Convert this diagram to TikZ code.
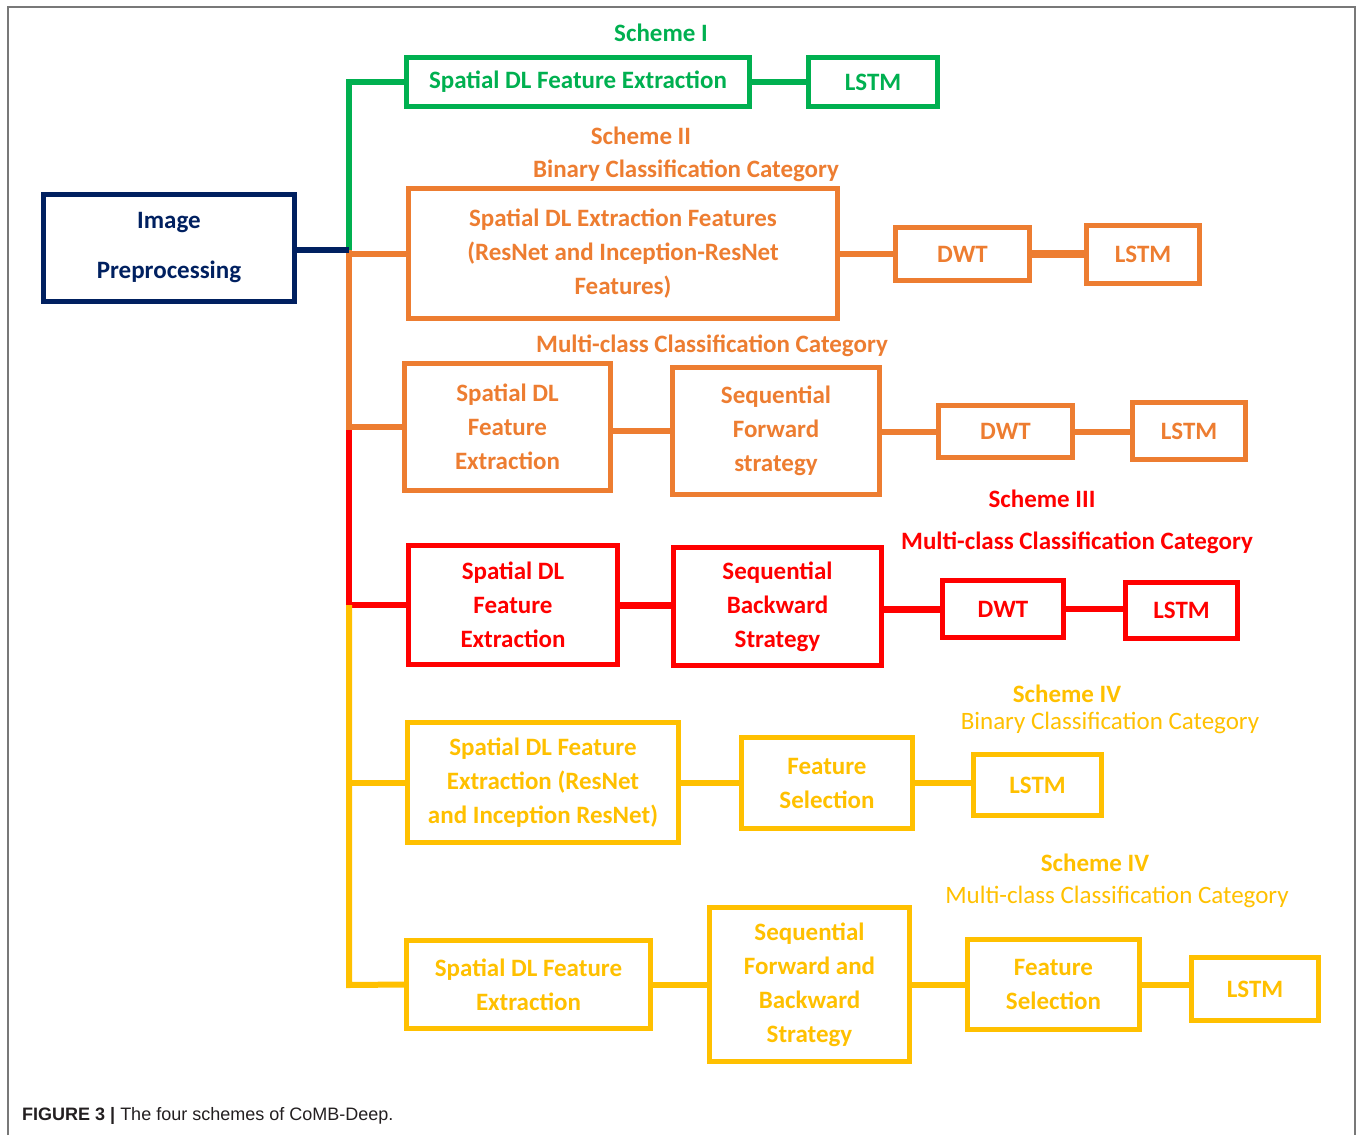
\documentclass[tikz,border=0pt]{standalone}
\usepackage{fontspec}
\setmainfont{Carlito}
\newfontfamily\capfont{Liberation Sans}
\definecolor{navyc}{RGB}{0,32,96}
\definecolor{greenc}{RGB}{0,176,80}
\definecolor{orangec}{RGB}{237,125,49}
\definecolor{redc}{RGB}{255,0,0}
\definecolor{yellowc}{RGB}{255,192,0}
\definecolor{framec}{RGB}{120,120,120}
\definecolor{captc}{RGB}{35,31,32}
\tikzset{
  bx/.style={draw=#1, text=#1, line width=5pt, align=center, inner sep=0pt,
    font=\bfseries\fontsize{25}{34}\selectfont},
  ln/.style={draw=#1, line width=6pt},
  lbl/.style={text=#1, anchor=base, inner sep=0pt, font=\bfseries\fontsize{25}{30}\selectfont},
  lblr/.style={text=#1, anchor=base, inner sep=0pt, font=\fontsize{25}{30}\selectfont},
}
\begin{document}
\begin{tikzpicture}[x=1pt,y=-1pt]
\useasboundingbox (0,0) rectangle (1357,1135);
% frame
\draw[framec, line width=2pt] (7.5,1135) -- (7.5,6.5) -- (1355,6.5) -- (1355,1135);

% nodes
\node[bx=navyc, minimum width=251pt, minimum height=107pt, font=\bfseries\fontsize{25}{50}\selectfont] (ip) at (169,248) {Image\\Preprocessing};

\node[bx=greenc, minimum width=343pt, minimum height=49pt] (g1) at (578,82) {Spatial DL Feature Extraction};
\node[bx=greenc, minimum width=129pt, minimum height=49pt] (g2) at (873,82) {LSTM};

\node[bx=orangec, minimum width=429pt, minimum height=130pt] (o1) at (623,253.5) {\raisebox{4pt}{\parbox{400pt}{\centering Spatial DL Extraction Features\\(ResNet and Inception-ResNet\\Features)}}};
\node[bx=orangec, minimum width=134pt, minimum height=53pt] (o2) at (962.5,254) {DWT};
\node[bx=orangec, minimum width=113pt, minimum height=58pt] (o3) at (1143,254.5) {LSTM};

\node[bx=orangec, minimum width=206pt, minimum height=127pt] (o4) at (507.5,427) {Spatial DL\\Feature\\Extraction};
\node[bx=orangec, minimum width=207pt, minimum height=127pt] (o5) at (776,431) {Sequential\\Forward\\strategy};
\node[bx=orangec, minimum width=134pt, minimum height=52pt] (o6) at (1005.5,431.5) {DWT};
\node[bx=orangec, minimum width=113pt, minimum height=57pt] (o7) at (1189,431) {LSTM};

\node[bx=redc, minimum width=209pt, minimum height=119pt] (r1) at (513,605) {Spatial DL\\Feature\\Extraction};
\node[bx=redc, minimum width=208pt, minimum height=118pt] (r2) at (777.5,606.5) {Sequential\\Backward\\Strategy};
\node[bx=redc, minimum width=121pt, minimum height=57pt] (r3) at (1003,609) {DWT};
\node[bx=redc, minimum width=112pt, minimum height=56pt] (r4) at (1181.5,610.5) {LSTM};

\node[bx=yellowc, minimum width=271pt, minimum height=120pt] (y1) at (543,782.5) {Spatial DL Feature\\Extraction (ResNet\\and Inception ResNet)};
\node[bx=yellowc, minimum width=171pt, minimum height=91pt] (y2) at (827,783) {Feature\\Selection};
\node[bx=yellowc, minimum width=128pt, minimum height=61pt] (y3) at (1037.5,785) {LSTM};

\node[bx=yellowc, minimum width=244pt, minimum height=88pt] (y4) at (528.5,984.5) {Spatial DL Feature\\Extraction};
\node[bx=yellowc, minimum width=200pt, minimum height=154pt] (y5) at (809.5,984.5) {Sequential\\Forward and\\Backward\\Strategy};
\node[bx=yellowc, minimum width=172pt, minimum height=90pt] (y6) at (1053.5,984.5) {Feature\\Selection};
\node[bx=yellowc, minimum width=127pt, minimum height=63pt] (y7) at (1255,989) {LSTM};

% labels
\node[lbl=greenc] (s1) at (661,41) {Scheme I};
\node[lbl=orangec] (s2) at (641,144) {Scheme II};
\node[lbl=orangec] (s2b) at (686,177) {Binary Classification Category};
\node[lbl=orangec] (s2m) at (712,352) {Multi-class Classification Category};
\node[lbl=redc] (s3) at (1042,507) {Scheme III};
\node[lbl=redc] (s3m) at (1077,549) {Multi-class Classification Category};
\node[lbl=yellowc] (s4) at (1067,702) {Scheme IV};
\node[lblr=yellowc] (s4b) at (1110,729) {Binary Classification Category};
\node[lbl=yellowc] (s5) at (1095,871) {Scheme IV};
\node[lblr=yellowc] (s5m) at (1117,903) {Multi-class Classification Category};

% caption
\node[anchor=base west, inner sep=0pt, text=captc, font=\capfont\fontsize{18}{20}\selectfont] (cap) at (22,1120) {\textbf{FIGURE 3 |} The four schemes of CoMB-Deep.};

% trunk coordinates
\coordinate (j) at (349,250);
\coordinate (ko) at (349,430);
\coordinate (kr) at (349,605);
\coordinate (ky) at (349,985);

% connectors
\draw[ln=greenc] (j) |- (g1.west);
\draw[ln=greenc] (g1.east) -- (g2.west);

\draw[ln=orangec] (j) -- (ko);
\draw[ln=orangec] (j |- o1.west) -- (o1.west);
\draw[ln=orangec] (ko |- o4.west) -- (o4.west);
\draw[ln=orangec] (o1.east |- o2.west) -- (o2.west);
\draw[ln=orangec, line width=8pt] (o2.east) -- (o3.west |- o2.east);
\draw[ln=orangec] (o4.east |- o5.west) -- (o5.west);
\draw[ln=orangec] (o5.east |- o6.west) -- (o6.west);
\draw[ln=orangec] (o6.east) -- (o7.west |- o6.east);

\draw[ln=redc] (ko) -- (kr) -- (r1.west);
\draw[ln=redc, line width=7pt] (r1.east) -- (r2.west |- r1.east);
\draw[ln=redc, line width=7pt] (r2.east |- r3.west) -- (r3.west);
\draw[ln=redc] (r3.east) -- (r4.west |- r3.east);

\draw[ln=yellowc] (kr) -- (ky) -- (y4.west);
\draw[ln=yellowc] (kr |- y1.west) -- (y1.west);
\draw[ln=yellowc] (y1.east) -- (y2.west |- y1.east);
\draw[ln=yellowc] (y2.east) -- (y3.west |- y2.east);
\draw[ln=yellowc] (y4.east) -- (y5.west);
\draw[ln=yellowc] (y5.east) -- (y6.west);
\draw[ln=yellowc] (y6.east) -- (y7.west |- y6.east);

\draw[ln=navyc] (ip.east |- j) -- (j);
\end{tikzpicture}
\end{document}
